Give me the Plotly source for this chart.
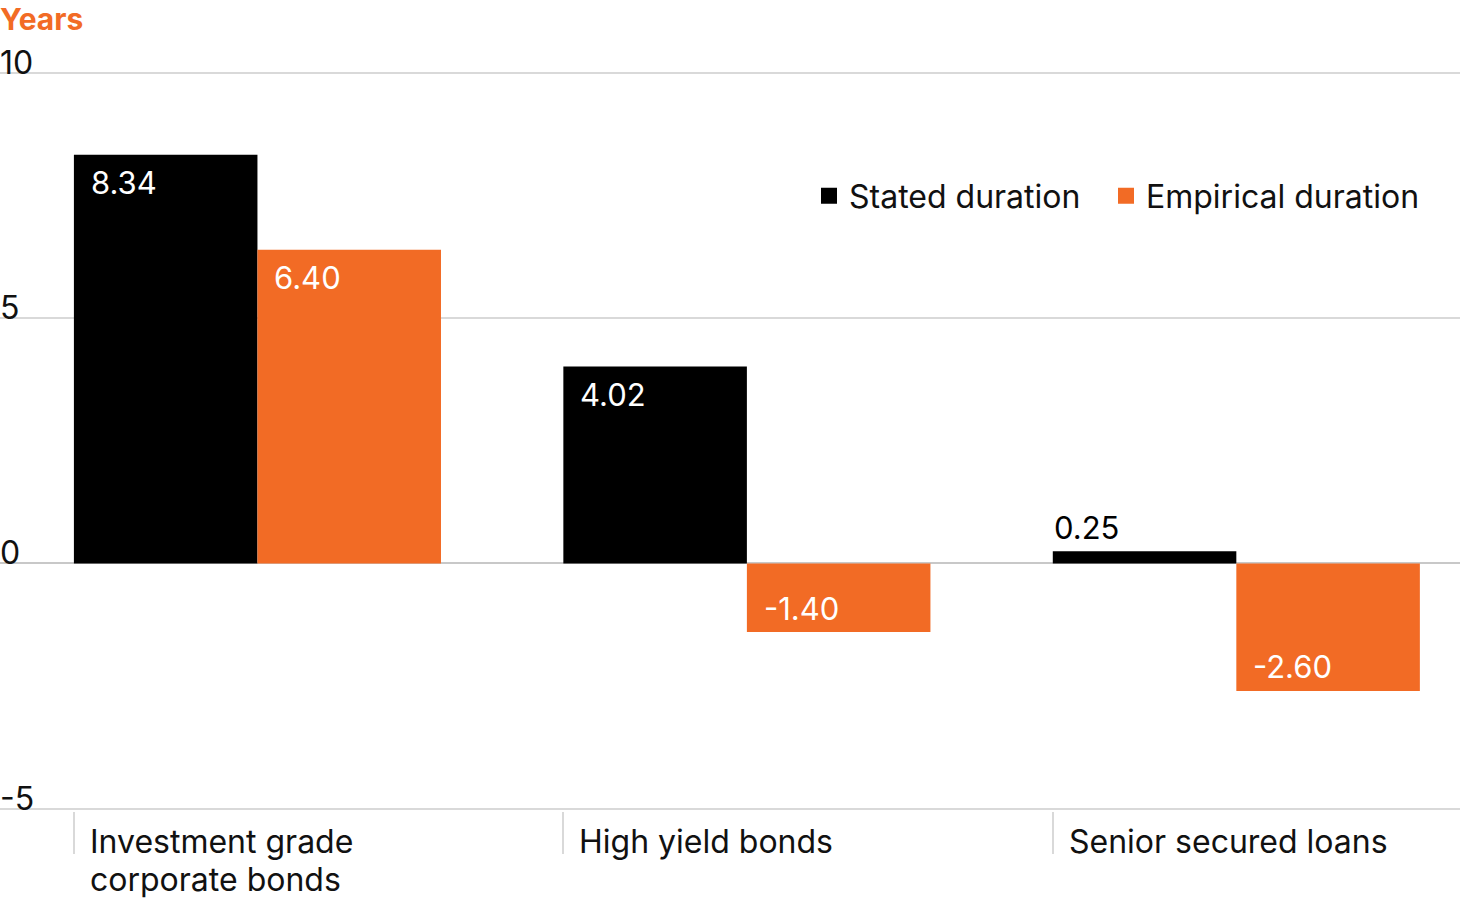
import plotly.graph_objects as go

categories = ["Investment grade<br>corporate bonds", "High yield bonds", "Senior secured loans"]
stated = [8.34, 4.02, 0.25]
empirical = [6.40, -1.40, -2.60]
series_names = ["Stated duration", "Empirical duration"]
y_ticks = [-5, 0, 5, 10]

BLACK = "#000000"
ORANGE = "#F26B25"
GRID = "#D9D9D9"
FONT = "Inter, Lato, sans-serif"
W, H = 1460, 900

xs = list(range(len(categories)))
bargap = 0.25
group_w = 1 - bargap
bar_w = group_w / 2

Y_RANGE = [-5.05, 10.68]
PLOT_T, PLOT_B = 40, H - 811.5
PLOT_H = H - PLOT_T - PLOT_B

fig = go.Figure()
series = [(series_names[0], stated, BLACK, -bar_w / 2), (series_names[1], empirical, ORANGE, bar_w / 2)]
legend_ids = ["legend", "legend2"]
for (name, vals, col, off), lid in zip(series, legend_ids):
    fig.add_trace(go.Bar(
        x=[x + off for x in xs], y=vals, width=bar_w, marker=dict(color=col, line=dict(width=0)),
        name=name, showlegend=False, hoverinfo="skip"))
    # legend proxy with square symbols
    fig.add_trace(go.Scatter(
        x=[None], y=[None], mode="markers", name=name, legend=lid,
        marker=dict(symbol="square", size=19, color=col)))

annotations = []
px_per_unit = PLOT_H / (Y_RANGE[1] - Y_RANGE[0])
for name, vals, col, off in series:
    for x, v in zip(xs, vals):
        left = x + off - bar_w / 2
        inside = abs(v) * px_per_unit > 50
        if inside:
            color = "white"
            xshift = 15
            yshift = -28 if v > 0 else 24
        else:
            color = "black"
            xshift = -1
            yshift = 24 if v > 0 else -24
        annotations.append(dict(
            x=left, y=v, xref="x", yref="y", text=f"{v:.2f}", showarrow=False,
            xanchor="left", yanchor="middle", xshift=xshift, yshift=yshift,
            font=dict(family=FONT, size=31, color=color)))

# y tick labels sitting above their gridlines at the left edge
for t in y_ticks:
    annotations.append(dict(
        x=0, y=t, xref="paper", yref="y", text=str(t), showarrow=False,
        xanchor="left", yanchor="bottom", xshift=-2, yshift=-11,
        font=dict(family=FONT, size=32, color="#111111")))

# category labels, left-aligned next to the tick lines (one annotation per text line)
LINE_STEP = 38
for x, c in zip(xs, categories):
    for k, line in enumerate(c.split("<br>")):
        annotations.append(dict(
            x=x - group_w / 2, y=-5, xref="x", yref="y", text=line, showarrow=False,
            xanchor="left", yanchor="top", align="left", xshift=14, yshift=-11 - k * LINE_STEP,
            font=dict(family=FONT, size=32, color="#111111")))

# y-axis title
annotations.append(dict(
    x=0, y=1, xref="paper", yref="paper", text="<b>Years</b>", showarrow=False,
    xanchor="left", yanchor="top", xshift=-2, yshift=41,
    font=dict(family=FONT, size=30, color=ORANGE)))

legend_y = (811.5 - 196) / PLOT_H
legend_common = dict(orientation="h", xanchor="left", y=legend_y, yanchor="middle",
                     font=dict(family=FONT, size=32, color="#111111"),
                     bgcolor="rgba(0,0,0,0)", itemwidth=30)

fig.update_layout(
    width=W, height=H,
    margin=dict(l=0, r=0, t=PLOT_T, b=PLOT_B, autoexpand=False),
    paper_bgcolor="white", plot_bgcolor="white",
    barmode="overlay",
    font=dict(family=FONT, size=32, color="#111111"),
    showlegend=True,
    legend=dict(x=809 / W, **legend_common),
    legend2=dict(x=1106 / W, **legend_common),
    xaxis=dict(range=[-0.526, 2.457], showgrid=False, zeroline=False, showline=False,
               tickvals=[x - group_w / 2 for x in xs], ticks="outside", ticklen=42,
               tickcolor=GRID, tickwidth=1.5, showticklabels=False, fixedrange=True,
               automargin=False),
    yaxis=dict(range=Y_RANGE, tickvals=y_ticks,
               showgrid=True, gridcolor=GRID, gridwidth=1.5, zeroline=True, zerolinecolor="#C8C8C8",
               zerolinewidth=1.5, showline=False, ticks="", showticklabels=False,
               automargin=False, layer="below traces"),
    annotations=annotations,
)

fig.write_html("out.html", config={"displayModeBar": False},
               post_script="document.body.style.margin='0';")
